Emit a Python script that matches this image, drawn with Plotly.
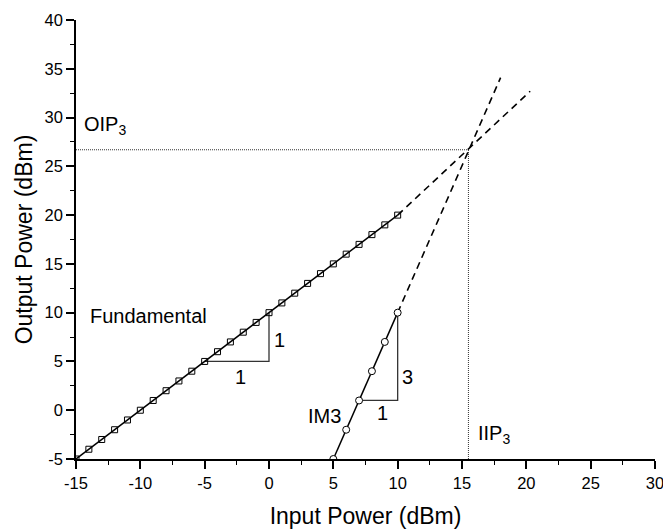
import plotly.graph_objects as go

# Data
fund_x = [-15, -14, -13, -12, -11, -10, -9, -8, -7, -6, -5, -4, -3, -2, -1, 0, 1, 2, 3, 4, 5, 6, 7, 8, 9, 10]
fund_y = [-5, -4, -3, -2, -1, 0, 1, 2, 3, 4, 5, 6, 7, 8, 9, 10, 11, 12, 13, 14, 15, 16, 17, 18, 19, 20]
im3_x = [5, 6, 7, 8, 9, 10]
im3_y = [-5, -2, 1, 4, 7, 10]
fund_ext_x = [10, 20.3]
fund_ext_y = [20, 32.7]
im3_ext_x = [10, 18.0]
im3_ext_y = [10, 34.1]
iip3 = 15.5
oip3 = 26.7
fund_tri_x = [-5, 0, 0]
fund_tri_y = [5, 5, 10]
im3_tri_x = [7, 10, 10]
im3_tri_y = [1, 1, 10]
x_ticks = [-15, -10, -5, 0, 5, 10, 15, 20, 25, 30]
x_tick_text = ["-15", "-10", "-5", "0", "5", "10", "15", "20", "25", "30"]
y_ticks = [-5, 0, 5, 10, 15, 20, 25, 30, 35, 40]
y_tick_text = ["-5", "0", "5", "10", "15", "20", "25", "30", "35", "40"]

FONT = "Liberation Sans, Arial, sans-serif"

fig = go.Figure()

# guide lines (dotted)
fig.add_trace(go.Scatter(x=[-15, iip3], y=[oip3, oip3], mode="lines",
                         line=dict(color="#333", width=1, dash="1px,1px"), showlegend=False))
fig.add_trace(go.Scatter(x=[iip3, iip3], y=[-5, oip3], mode="lines",
                         line=dict(color="#333", width=1, dash="1px,1px"), showlegend=False))

# extrapolation (dashed)
fig.add_trace(go.Scatter(x=fund_ext_x, y=fund_ext_y, mode="lines",
                         line=dict(color="black", width=1.6, dash="7px,5px"), showlegend=False))
fig.add_trace(go.Scatter(x=im3_ext_x, y=im3_ext_y, mode="lines",
                         line=dict(color="black", width=1.6, dash="7px,5px"), showlegend=False))

# slope triangles
fig.add_trace(go.Scatter(x=fund_tri_x, y=fund_tri_y, mode="lines",
                         line=dict(color="#333", width=1.3), showlegend=False))
fig.add_trace(go.Scatter(x=im3_tri_x, y=im3_tri_y, mode="lines",
                         line=dict(color="#333", width=1.3), showlegend=False))

# data
fig.add_trace(go.Scatter(x=fund_x, y=fund_y, mode="lines+markers",
                         line=dict(color="black", width=1.5),
                         marker=dict(symbol="square-open", size=6, color="black", line=dict(width=1)),
                         showlegend=False))
fig.add_trace(go.Scatter(x=im3_x, y=im3_y, mode="lines+markers",
                         line=dict(color="black", width=1.5),
                         marker=dict(symbol="circle", size=7, color="white", line=dict(width=1, color="black")),
                         showlegend=False))

annots = [
    dict(x=-14.1, y=9.7, text="Fundamental", xanchor="left", size=20),
    dict(x=-2.2, y=3.4, text="1", xanchor="center", size=20),
    dict(x=0.85, y=7.2, text="1", xanchor="center", size=20),
    dict(x=10.8, y=3.4, text="3", xanchor="center", size=20),
    dict(x=8.85, y=-0.3, text="1", xanchor="center", size=20),
    dict(x=4.3, y=-0.6, text="IM3", xanchor="center", size=20),
    dict(x=-14.5, y=29.2, text="OIP<sub>3</sub>", xanchor="left", size=20),
    dict(x=16.1, y=-2.5, text="IIP<sub>3</sub>", xanchor="left", size=20),
]
for a in annots:
    fig.add_annotation(x=a["x"], y=a["y"], text=a["text"], xanchor=a["xanchor"], yanchor="middle",
                       showarrow=False, font=dict(family=FONT, size=a["size"], color="black"))

axis_common = dict(
    showgrid=False, zeroline=False, showline=True, linecolor="black", linewidth=1.6,
    ticks="outside", ticklen=8, tickwidth=1.6, tickcolor="black",
    tickfont=dict(family=FONT, size=16.5, color="black"),
    minor=dict(ticks="outside", ticklen=4, tickwidth=1.4, tickcolor="black", dtick=2.5),
    mirror=False, ticklabeloverflow="allow",
)

fig.update_xaxes(range=[-15, 30], tickmode="array", tickvals=x_ticks, ticktext=x_tick_text,
                 title=dict(text="Input Power (dBm)", font=dict(family=FONT, size=23, color="black"), standoff=18),
                 **axis_common)
fig.update_yaxes(range=[-5, 40], tickmode="array", tickvals=y_ticks, ticktext=y_tick_text,
                 title=dict(text="Output Power (dBm)", font=dict(family=FONT, size=23, color="black"), standoff=5),
                 **axis_common)

fig.update_layout(
    width=663, height=529,
    margin=dict(l=76, r=8, t=20, b=70, autoexpand=False),
    plot_bgcolor="white", paper_bgcolor="white",
    font=dict(family=FONT, color="black"),
)

fig.write_html("out.html")
